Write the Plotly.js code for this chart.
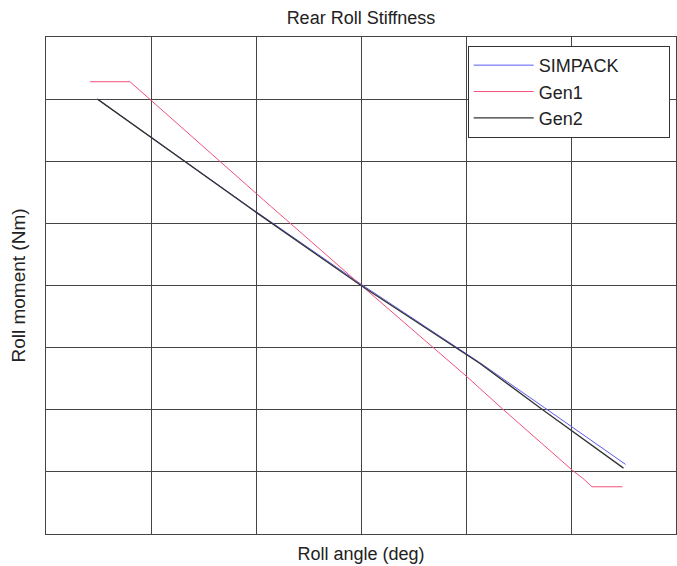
<!DOCTYPE html>
<html>
<head>
<meta charset="utf-8">
<script src="https://cdn.plot.ly/plotly-3.0.1.min.js"></script>
<style>html,body{margin:0;padding:0;background:#fff;}#chart{width:677px;height:566px;}</style>
</head>
<body>
<div id="chart"></div>
<script>
// Roll angle (deg) and roll moment (Nm) values (axis units = one grid cell)
const simpackAngle  = [-2.51, -1.06, 0.01, 1.13, 1.75, 2.52];
const simpackMoment = [ 3.00,  1.26, 0.01, -1.24, -1.97, -2.88];

const gen1Angle  = [-2.58, -2.20, -0.93, 0.01, 1.01, 1.35, 2.01, 2.11, 2.20, 2.49];
const gen1Moment = [ 3.28,  3.28,  1.38, -0.01, -1.47, -1.99, -2.97, -3.10, -3.24, -3.24];

const gen2Angle  = [-2.51, -1.06, 0.00, 1.13, 1.73, 2.50];
const gen2Moment = [ 3.00,  1.25, 0.00, -1.25, -2.00, -2.94];

const seriesNames = ["SIMPACK", "Gen1", "Gen2"];
const xTicks = [-3, -2, -1, 0, 1, 2, 3];
const yTicks = [-4, -3, -2, -1, 0, 1, 2, 3, 4];

const fam = "Liberation Sans, Arial, sans-serif";
const txtColor = "#222";
const pad = "\u00a0".repeat(9);

const traces = [
  {x: simpackAngle, y: simpackMoment, name: seriesNames[0] + pad, mode: "lines",
   line: {color: "#5a5af0", width: 1}, legendgroup: "a"},
  {x: gen1Angle, y: gen1Moment, name: seriesNames[1], mode: "lines",
   line: {color: "#f0507a", width: 1}, legendgroup: "b"},
  {x: gen2Angle, y: gen2Moment, name: seriesNames[2], mode: "lines",
   line: {color: "#333333", width: 1.3}, legendgroup: "c"}
];

const axisCommon = {
  showgrid: true, gridcolor: "#444", gridwidth: 1,
  showline: true, linecolor: "#444", linewidth: 1, mirror: true,
  zeroline: false, showticklabels: false,
  ticks: "inside", ticklen: 3, tickcolor: "#444"
};

const layout = {
  width: 677, height: 566,
  margin: {l: 46, r: 1, t: 37, b: 32},
  paper_bgcolor: "#fff", plot_bgcolor: "#fff",
  font: {family: fam, size: 18, color: txtColor},
  title: {text: "Rear Roll Stiffness", font: {family: fam, size: 18, color: txtColor},
          x: 0.5, xref: "paper", xanchor: "center", y: 1 - 18/566, yanchor: "middle"},
  xaxis: Object.assign({}, axisCommon, {
    range: [-3, 3], tickvals: xTicks,
    title: {text: "Roll angle (deg)", font: {family: fam, size: 18, color: txtColor}, standoff: 13}
  }),
  yaxis: Object.assign({}, axisCommon, {
    range: [-4, 4], tickvals: yTicks,
    title: {text: "Roll moment (Nm)", font: {family: fam, size: 19, color: txtColor}, standoff: 14}
  }),
  showlegend: true,
  legend: {
    x: 0.99, xanchor: "right", y: 0.982, yanchor: "top",
    bgcolor: "#fff", bordercolor: "#333", borderwidth: 1,
    font: {family: fam, size: 18, color: txtColor},
    tracegroupgap: 0, itemwidth: 60
  }
};

Plotly.newPlot("chart", traces, layout, {displayModeBar: false, staticPlot: true});
</script>
</body>
</html>
